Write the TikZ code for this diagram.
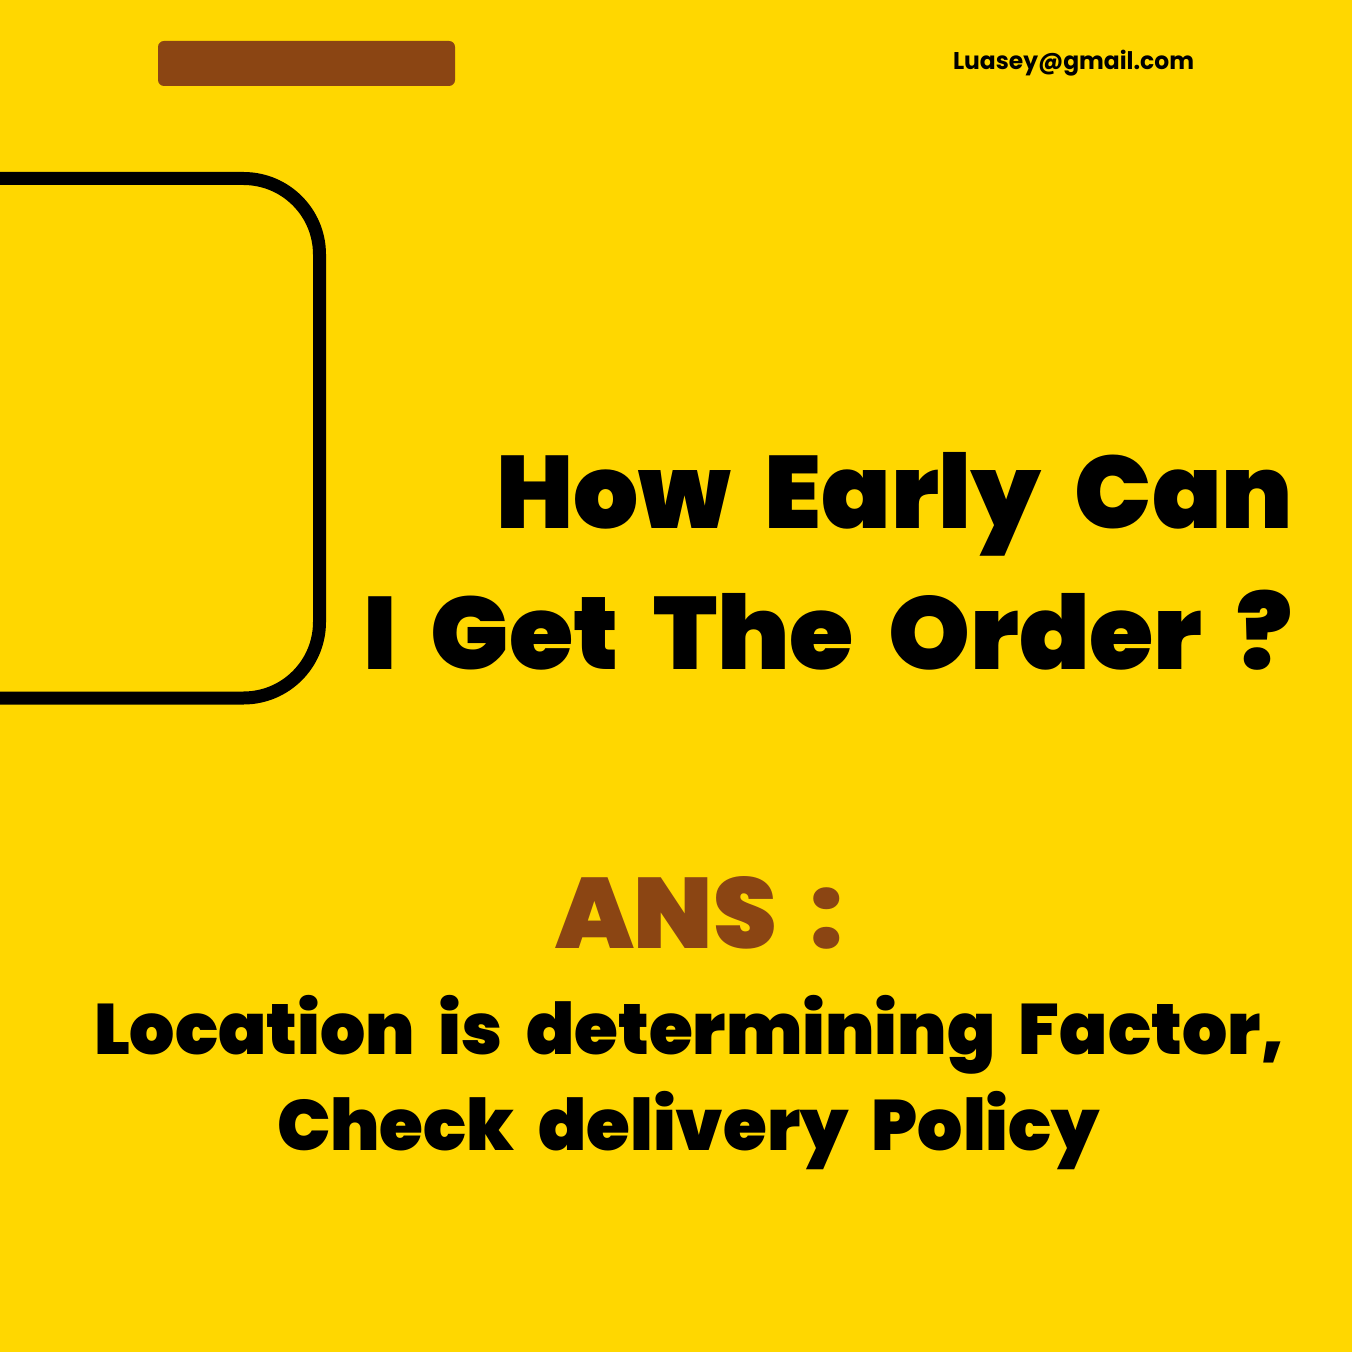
\documentclass[tikz,border=0pt]{standalone}
\usepackage{fontspec}
\newfontfamily\blk{Poppins Black}
\newfontfamily\semib{Poppins Bold}
\definecolor{gold}{HTML}{FFD700}
\definecolor{brownish}{HTML}{8B4513}
\newcommand\fitw[2]{\setbox0\hbox{\spaceskip=0.33em\relax #2}\pgfmathsetmacro\fx{#1*0.5/\the\wd0}\scalebox{\fx}[1]{\box0}}
\begin{document}
\begin{tikzpicture}[x=0.5pt,y=-0.5pt,
  txt/.style={inner sep=0pt,outer sep=0pt},
  title/.style={txt,font=\blk\fontsize{51.4pt}{51.4pt}\selectfont},
  answer/.style={txt,font=\blk\fontsize{35.7pt}{35.7pt}\selectfont}]
\useasboundingbox (0,0) rectangle (1352,1352);
\fill[gold] (0,0) rectangle (1352,1352);
\begin{scope}
\clip (0,0) rectangle (1352,1352);
\draw[line width=6.5pt,rounded corners=38pt] (-20,178.5) -- (319.5,178.5) -- (319.5,698) -- (-20,698);
\end{scope}
\fill[brownish,rounded corners=3pt] (158,41) rectangle (455,86);
\node[txt,anchor=base west,font=\semib\fontsize{12.1pt}{12.1pt}\selectfont] (mail) at (953,70) {\fitw{241}{Luasey@gmail.com}};
\node[title,anchor=base east] (t1) at (1293,528) {\fitw{797}{How Early Can}};
\node[title,anchor=base east] (t2) at (1293,669) {\fitw{930}{I Get The Order ?}};
\node[txt,anchor=base west,text=brownish,font=\blk\fontsize{50pt}{50pt}\selectfont] (ans) at (555,948) {\fitw{288}{ANS :}};
\node[answer,anchor=base west] (a1) at (94,1054) {\fitw{1191}{Location is determining Factor,}};
\node[answer,anchor=base west] (a2) at (277,1150) {\fitw{823}{Check delivery Policy}};
\end{tikzpicture}
\end{document}
